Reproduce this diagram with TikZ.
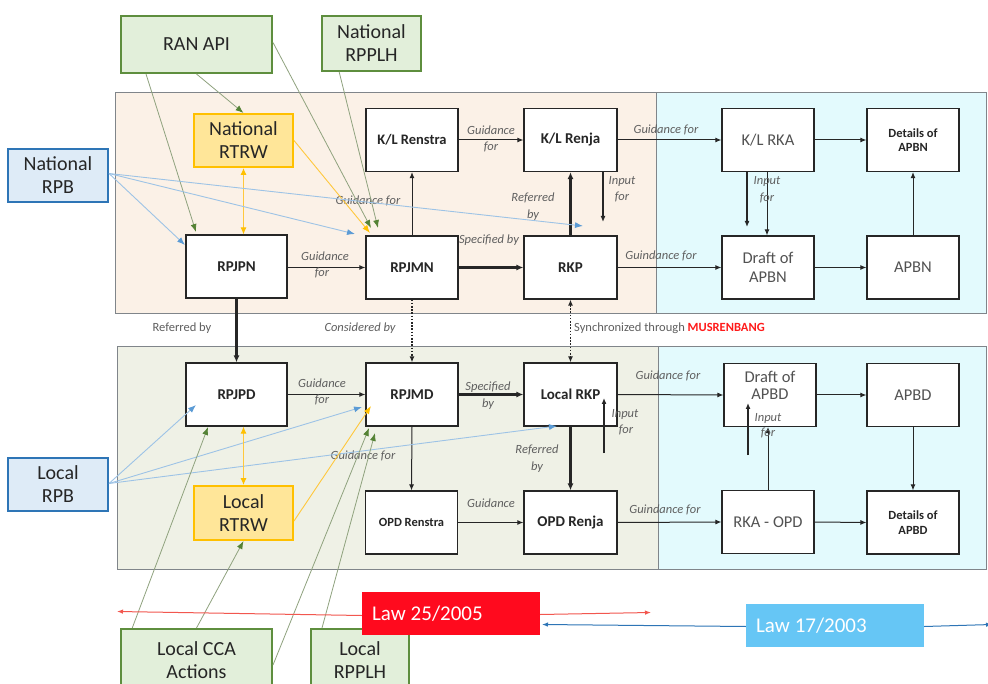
\documentclass[tikz,border=0pt]{standalone}
\usepackage{fontspec}
\setmainfont{Carlito}
\usetikzlibrary{arrows.meta,calc}

\definecolor{peach}{HTML}{FBF1E7}
\definecolor{sage}{HTML}{EFF1E6}
\definecolor{aqua}{HTML}{E3FAFD}
\definecolor{panelline}{HTML}{80858A}
\definecolor{gfill}{HTML}{E2EFDA}
\definecolor{gdraw}{HTML}{5E8E3E}
\definecolor{bfill}{HTML}{DEEBF7}
\definecolor{bdraw}{HTML}{2E75B6}
\definecolor{ofill}{HTML}{FFE699}
\definecolor{odraw}{HTML}{FFC000}
\definecolor{gline}{HTML}{8FA27E}
\definecolor{gtip}{HTML}{548235}
\definecolor{bline}{HTML}{9DC3E6}
\definecolor{btip}{HTML}{5B9BD5}
\definecolor{oline}{HTML}{FFC83D}
\definecolor{lawred}{HTML}{FF0A1E}
\definecolor{lawredline}{HTML}{F2574F}
\definecolor{lawblue}{HTML}{66C6F5}
\definecolor{lawblueline}{HTML}{2E75B6}
\definecolor{labelgray}{HTML}{5F5F5F}
\definecolor{musred}{HTML}{FF1A1A}
\definecolor{ink}{HTML}{262626}

\begin{document}
\begin{tikzpicture}[x=1pt,y=-1pt,
  box/.style={draw=ink, line width=1.2pt, fill=white, minimum width=92pt,
    minimum height=63pt, inner sep=2pt, align=center, text=ink,
    font=\bfseries\fontsize{15}{16.5}\selectfont},
  rbox/.style={box, text=black!68, font=\fontsize{16.5}{19}\selectfont},
  dbox/.style={box, font=\bfseries\fontsize{12.5}{14.5}\selectfont},
  gbox/.style={draw=gdraw, fill=gfill, line width=2pt, align=center, text=ink,
    font=\fontsize{20}{23}\selectfont},
  bbox/.style={gbox, draw=bdraw, fill=bfill},
  obox/.style={gbox, draw=odraw, fill=ofill},
  lawbox/.style={minimum height=43pt, text width=158pt, inner xsep=10pt,
    align=left, text=white, font=\fontsize{21}{24}\selectfont},
  lbl/.style={text=labelgray, font=\itshape\fontsize{12.5}{14}\selectfont, inner sep=0pt},
  lblu/.style={text=labelgray, font=\fontsize{12.5}{14}\selectfont, inner sep=0pt},
  arr/.style={draw=ink, line width=1pt, -{Latex[length=6pt,width=5pt]}},
  tarr/.style={arr, line width=2.2pt, -{Latex[length=7pt,width=6pt]}},
  marr/.style={arr, line width=1.6pt},
  dotarr/.style={draw=ink, line width=1.4pt, dash pattern=on 1.6pt off 1.6pt},
  garr/.style={draw=gline, line width=0.8pt, -{Latex[length=8pt,width=6pt,color=gtip]}},
  barr/.style={draw=bline, line width=0.9pt, -{Latex[length=8pt,width=6pt,color=btip]}},
  oarr/.style={draw=oline, line width=0.9pt, -{Latex[length=8pt,width=6pt,color=odraw]}},
  oarr2/.style={draw=oline, line width=0.9pt,
    {Latex[length=7pt,width=6pt,color=odraw]}-{Latex[length=7pt,width=6pt,color=odraw]}},
  lawr/.style={draw=lawredline, line width=1pt, -{Latex[length=6pt,width=4.5pt]}},
  lawb/.style={draw=lawblueline, line width=1pt, -{Latex[length=6pt,width=4.5pt]}}
]
\clip (0,0) rectangle (988,684);
\fill[white] (0,0) rectangle (988,684);

% ---- panels: national (top) and local (bottom) levels
\draw[panelline, line width=1pt, fill=peach] (115,93) rectangle (656,314);
\draw[panelline, line width=1pt, fill=aqua] (656,93) rectangle (986,314);
\draw[panelline, line width=1pt, fill=sage] (117,347) rectangle (658,569);
\draw[panelline, line width=1pt, fill=aqua] (658,347) rectangle (986,569);

% ---- national planning boxes
\node[box, font=\bfseries\fontsize{14.5}{16}\selectfont] (klrenstra) at (412,140) {K/L Renstra};
\node[box, minimum width=93pt] (klrenja) at (570.5,140) {K/L Renja};
\node[rbox] (klrka) at (768,140) {K/L RKA};
\node[dbox] (detapbn) at (913,140) {Details of\\APBN};
\node[box, minimum width=101pt] (rpjpn) at (236.5,266.5) {RPJPN};
\node[box] (rpjmn) at (412,267.5) {RPJMN};
\node[box, minimum width=93pt] (rkp) at (570.5,267.5) {RKP};
\node[rbox] (draftapbn) at (768,267.5) {Draft of\\APBN};
\node[rbox] (apbn) at (913,267.5) {APBN};

% ---- local planning boxes
\node[box, minimum width=101pt] (rpjpd) at (236.5,394.5) {RPJPD};
\node[box] (rpjmd) at (412,394.5) {RPJMD};
\node[box, minimum width=93pt] (localrkp) at (570.5,394.5) {Local RKP};
\node[rbox, font=\fontsize{16.5}{17.5}\selectfont] (draftapbd) at (770,395) {Draft of\\APBD\\[2pt]};
\node[rbox] (apbd) at (913,395) {APBD};
\node[box, font=\bfseries\fontsize{12.5}{14}\selectfont] (opdrenstra) at (411.5,522.5) {OPD Renstra};
\node[box, minimum width=93pt] (opdrenja) at (570.5,522.5) {OPD Renja};
\node[rbox] (rkaopd) at (768,522) {RKA - OPD};
\node[dbox] (detapbd) at (913,522.5) {Details of\\APBD};

% ---- side documents
\node[gbox, minimum width=151pt, minimum height=57pt] (ranapi) at (196.5,44.5) {RAN API};
\node[gbox, minimum width=99pt, minimum height=55pt] (natrpplh) at (371.5,43.5) {National\\RPPLH};
\node[bbox, minimum width=100pt, minimum height=53pt] (natrpb) at (58,175.5) {National\\RPB};
\node[obox, minimum width=99pt, minimum height=53pt] (natrtrw) at (243.5,140.5) {National\\RTRW};
\node[bbox, minimum width=100pt, minimum height=53pt] (localrpb) at (58,484.5) {Local\\RPB};
\node[obox, minimum width=99pt, minimum height=54pt] (localrtrw) at (243.5,513) {Local\\RTRW};
\node[gbox, minimum width=151pt, minimum height=62pt] (localcca) at (196.5,660) {Local CCA\\Actions};
\node[gbox, minimum width=98pt, minimum height=62pt] (localrpplh) at (360,660) {Local\\RPPLH};

% ---- laws
\node[lawbox, fill=lawred] (law25) at (451,613.5) {Law\hskip 5pt 25/2005};
\node[lawbox, fill=lawblue] (law17) at (835,625.5) {Law\hskip 5pt 17/2003};

% ---- free ends of open arrows
\coordinate (klrenjain) at (603,222);
\coordinate (klrkain) at (747,227);
\coordinate (localrkpinfrom) at (604,453);
\coordinate (localrkpinto) at (604,398);
\coordinate (draftapbdinfrom) at (748,455);
\coordinate (draftapbdinto) at (748,403);
\coordinate (redleft) at (117,611.5);
\coordinate (redright) at (651,612.5);
\coordinate (blueleft) at (542,624.5);
\coordinate (blueright) at (992,624.5);

% ---- national flows
\draw[arr] (klrenstra.east) -- (klrenja.west);
\draw[arr] (klrenja.east) -- (klrka.west);
\draw[arr] (klrka.east) -- (detapbn.west);
\draw[arr] (rpjpn.east |- rpjmn.west) -- (rpjmn.west);
\draw[tarr] (rpjmn.east) -- (rkp.west);
\draw[arr] (rkp.east) -- (draftapbn.west);
\draw[arr] (draftapbn.east) -- (apbn.west);
\draw[arr] (rpjmn.north) -- (klrenstra.south);
\draw[tarr] (rkp.north) -- (klrenja.south);
\draw[marr] (klrenjain |- klrenja.south) -- (klrenjain);
\draw[marr] (klrkain |- klrka.south) -- (klrkain);
\draw[arr] ($(klrka.south)+(-1,0)$) -- ($(draftapbn.north)+(-1,0)$);
\draw[arr] (apbn.north) -- (detapbn.south);

% ---- links between levels
\draw[tarr] (rpjpn.south) -- (rpjpd.north);
\draw[dotarr, -{Latex[length=6pt,width=5pt]}] (rpjmn.south) -- (rpjmd.north);
\draw[dotarr, {Latex[length=6pt,width=5pt]}-{Latex[length=6pt,width=5pt]}] (rkp.south) -- (localrkp.north);

% ---- local flows
\draw[arr] (rpjpd.east |- rpjmd.west) -- (rpjmd.west);
\draw[tarr] (rpjmd.east) -- (localrkp.west);
\draw[arr] (localrkp.east) -- (draftapbd.west);
\draw[arr] (draftapbd.east) -- (apbd.west);
\draw[arr] (opdrenstra.east) -- (opdrenja.west);
\draw[arr] (opdrenja.east) -- (rkaopd.west);
\draw[arr] (rkaopd.east) -- (detapbd.west);
\draw[arr] (rpjmd.south) -- (opdrenstra.north);
\draw[tarr] (localrkp.south) -- (opdrenja.north);
\draw[arr] (apbd.south) -- (detapbd.north);
\draw[arr] (rkaopd.north) -- (rkaopd.north |- draftapbd.south);
\draw[marr] (localrkpinfrom) -- (localrkpinto);
\draw[marr] (draftapbdinfrom) -- (draftapbdinto);

% ---- labels
\node[lbl] (t1) at (491,130) {Guidance};
\node[lbl] (t2) at (491,147) {for};
\node[lbl] (t3) at (666,130) {Guidance for};
\node[lbl] (t4) at (622,181) {Input};
\node[lbl] (t5) at (622,197) {for};
\node[lbl] (t6) at (533,198) {Referred};
\node[lbl] (t7) at (533,215) {by};
\node[lbl] (t8) at (368,201) {Guidance for};
\node[lbl] (t9) at (489,240) {Specified by};
\node[lbl] (t10) at (325,256) {Guidance};
\node[lbl] (t11) at (322,273) {for};
\node[lbl] (t12) at (661,256) {Guindance for};
\node[lbl] (t13) at (767,182) {Input};
\node[lbl] (t14) at (767,198) {for};
\node[lblu] (t15) at (182,328) {Referred by};
\node[lbl] (t16) at (360,328) {Considered by};
\node[lblu, anchor=west] (t17) at (574,328) {Synchronized through \textcolor{musred}{\bfseries MUSRENBANG}};
\node[lbl] (t18) at (322,383) {Guidance};
\node[lbl] (t19) at (322,400) {for};
\node[lbl] (t20) at (488,387) {Specified};
\node[lbl] (t21) at (488,404) {by};
\node[lbl] (t22) at (668,376) {Guidance for};
\node[lbl] (t23) at (625,414) {Input};
\node[lbl] (t24) at (626,430) {for};
\node[lbl] (t25) at (537,450) {Referred};
\node[lbl] (t26) at (537,467) {by};
\node[lbl] (t27) at (363,456) {Guidance for};
\node[lbl] (t28) at (491,503) {Guidance};
\node[lbl] (t29) at (665,510) {Guindance for};
\node[lbl] (t30) at (768,418) {Input};
\node[lbl] (t31) at (768,433) {for};

% ---- tips of the thin coloured references
\coordinate (tipa) at (196,232);
\coordinate (tipb) at (371,228);
\coordinate (tipc) at (378,228);
\coordinate (tipd) at (370,233);
\coordinate (tipe) at (185,245);
\coordinate (tipf) at (355,234);
\coordinate (tipg) at (583,226);
\coordinate (tiph) at (196,405);
\coordinate (tipi) at (362,407);
\coordinate (tipj) at (557,426);
\coordinate (tipk) at (371,406);
\coordinate (tipl) at (208,427);
\coordinate (tipm) at (369,428);
\coordinate (tipn) at (375,433);

% ---- national references
\draw[garr] (ranapi.south) -- (natrtrw.north);
\draw[garr] ($(ranapi.south west)!0.17!(ranapi.south east)$) -- (tipa);
\draw[garr] ($(ranapi.east)+(0,-2)$) -- (tipb);
\draw[garr] ($(natrpplh.south west)!0.18!(natrpplh.south east)$) -- (tipc);
\draw[oarr] (natrtrw.east) -- (tipd);
\draw[oarr2] (natrtrw.south) -- (natrtrw.south |- rpjpn.north);
\draw[barr] ($(natrpb.east)+(0,-2)$) -- (tipe);
\draw[barr] ($(natrpb.east)+(0,-2)$) -- (tipf);
\draw[barr] ($(natrpb.east)+(0,-2)$) -- (tipg);

% ---- local references
\draw[barr] ($(localrpb.east)+(0,-1)$) -- (tiph);
\draw[barr] ($(localrpb.east)+(0,-1)$) -- (tipi);
\draw[barr] ($(localrpb.east)+(0,-1)$) -- (tipj);
\draw[oarr2] (localrtrw.north) -- (localrtrw.north |- rpjpd.south);
\draw[oarr] ($(localrtrw.east)+(0,8)$) -- (tipk);
\draw[garr] ($(localcca.north west)!0.08!(localcca.north east)$) -- (tipl);
\draw[garr] (localcca.north) -- (localrtrw.south);
\draw[garr] ($(localcca.east)+(0,5)$) -- (tipm);
\draw[garr] ($(localrpplh.north west)!0.12!(localrpplh.north east)$) -- (tipn);

% ---- time lines of the laws
\draw[lawr] ($(law25.west)+(0,2)$) -- (redleft);
\draw[lawr] ($(law25.east)+(0,1)$) -- (redright);
\draw[lawb] ($(law17.west)+(0,1)$) -- (blueleft);
\draw[lawb] ($(law17.east)+(0,1)$) -- (blueright);
\end{tikzpicture}
\end{document}
